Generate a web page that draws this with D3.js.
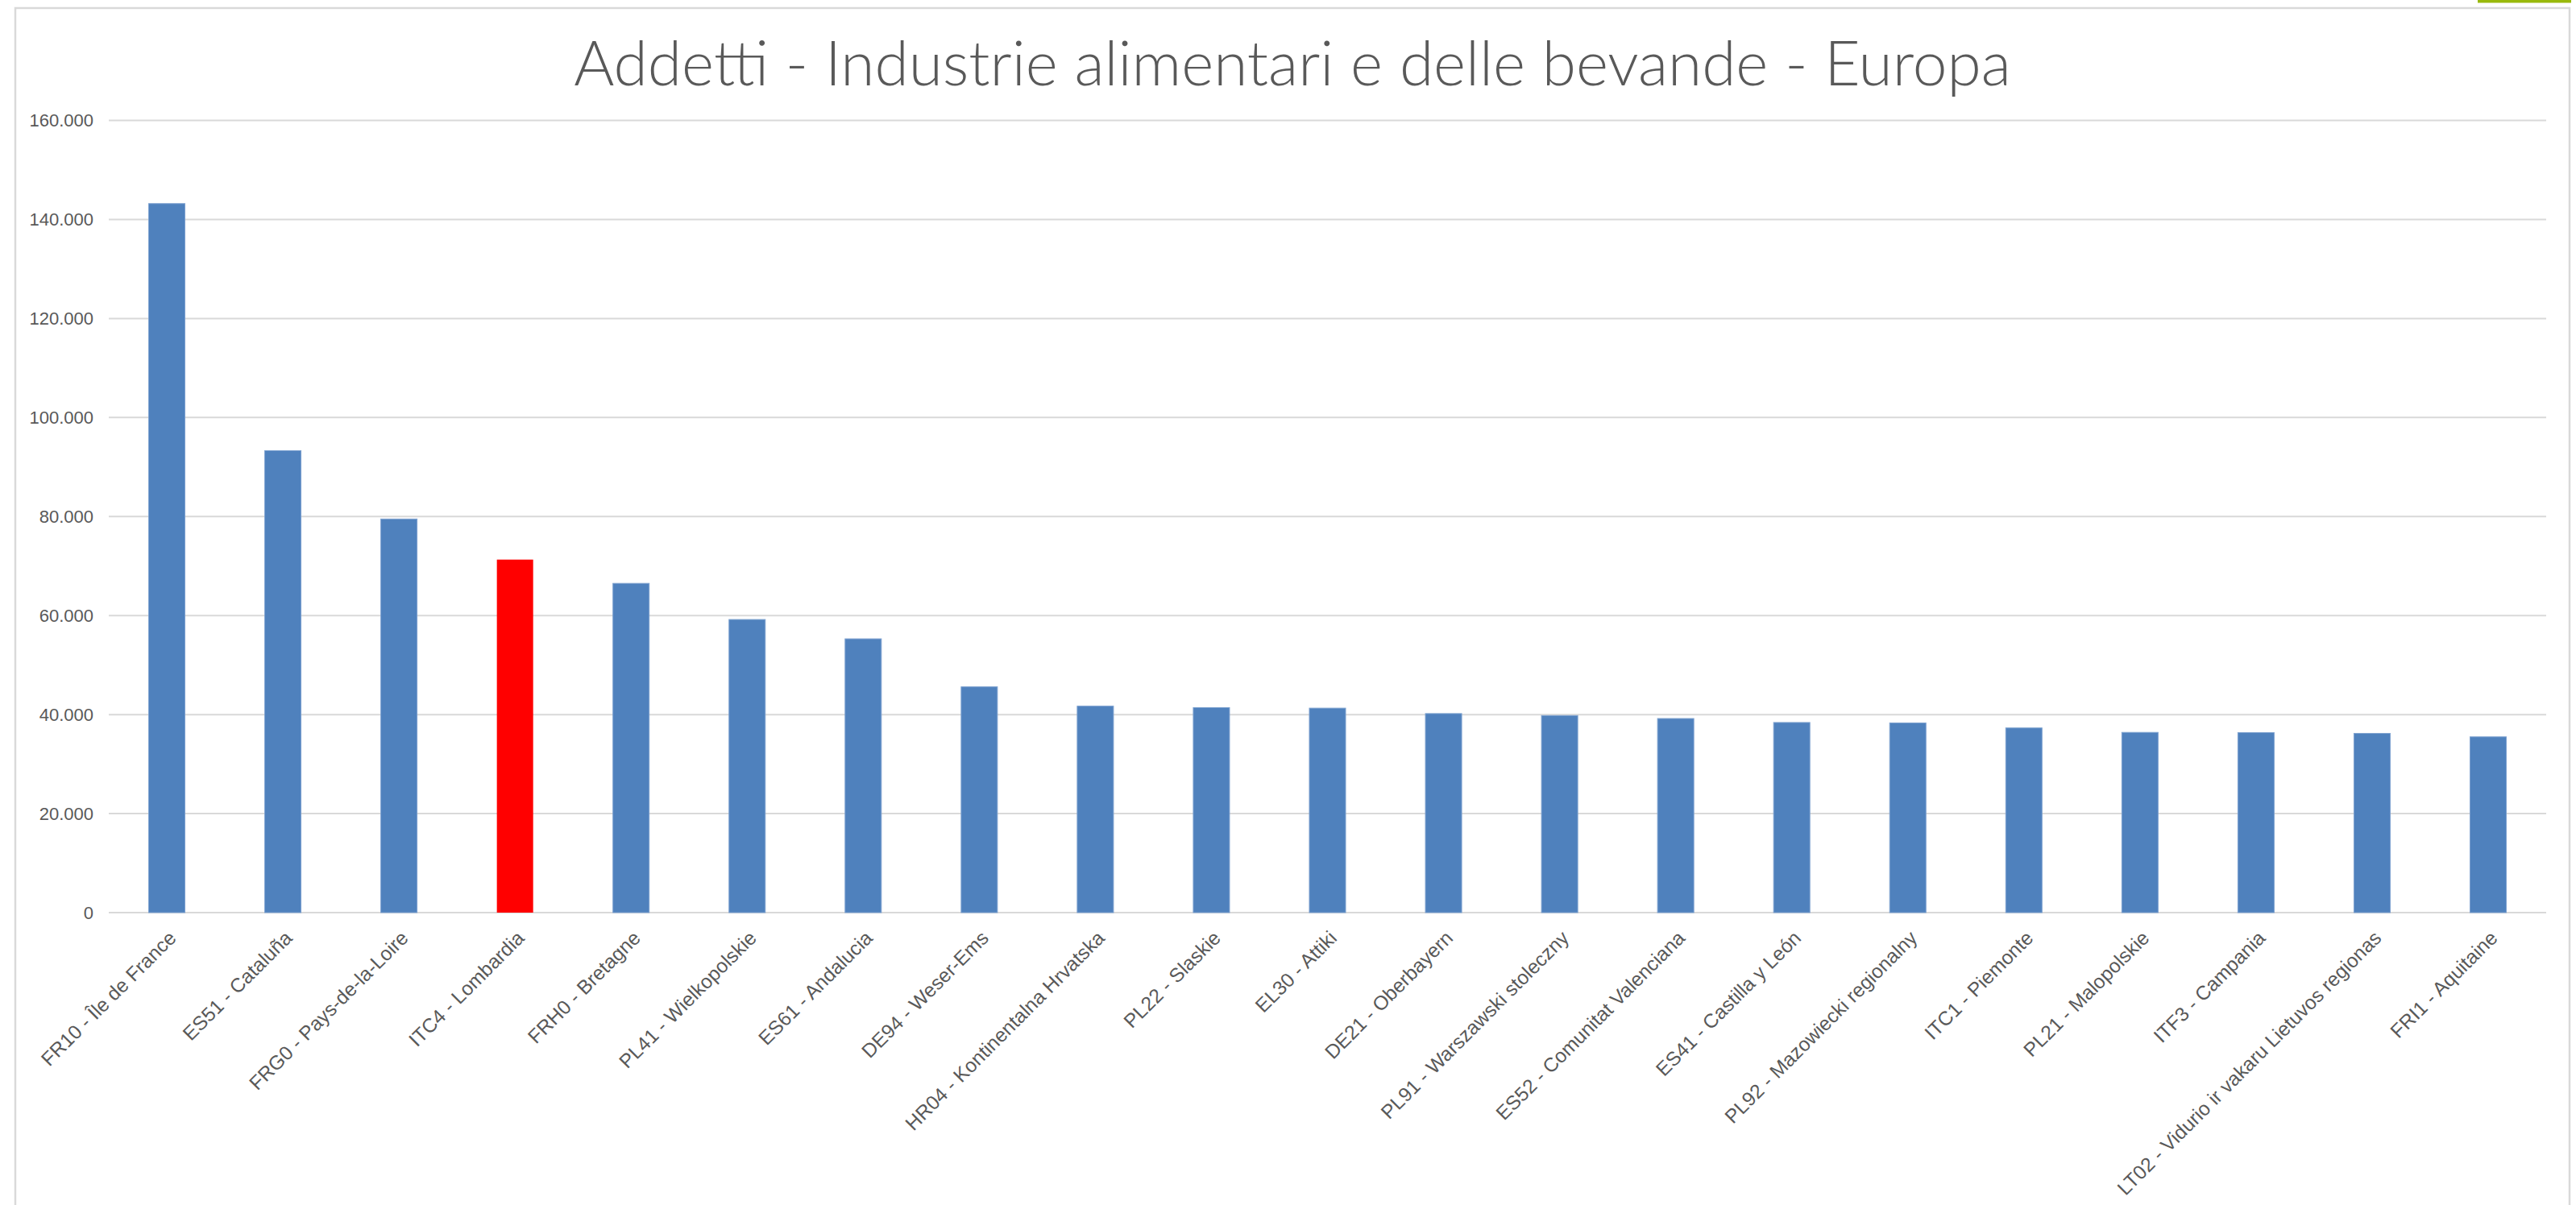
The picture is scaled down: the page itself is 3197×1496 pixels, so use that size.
<!DOCTYPE html>
<html>
<head>
<meta charset="UTF-8">
<script src="https://cdn.jsdelivr.net/npm/d3@7/dist/d3.min.js"></script>
<style>
body{
  margin:0;
  background-color:#fff;
}
</style>
</head>
<body>
<script>
// employees in food & beverage industry, top european regions

var regions = ["FR10 - Île de France", "ES51 - Cataluña", "FRG0 - Pays-de-la-Loire", "ITC4 - Lombardia",
  "FRH0 - Bretagne", "PL41 - Wielkopolskie", "ES61 - Andalucia", "DE94 - Weser-Ems",
  "HR04 - Kontinentalna Hrvatska", "PL22 - Slaskie", "EL30 - Attiki", "DE21 - Oberbayern",
  "PL91 - Warszawski stoleczny", "ES52 - Comunitat Valenciana", "ES41 - Castilla y León",
  "PL92 - Mazowiecki regionalny", "ITC1 - Piemonte", "PL21 - Malopolskie", "ITF3 - Campania",
  "LT02 - Vidurio ir vakaru Lietuvos regionas", "FRI1 - Aquitaine"]

var addetti = [143200, 93300, 79500, 71300, 66500, 59200, 55300, 45600, 41700, 41400, 41300,
  40200, 39800, 39200, 38400, 38300, 37300, 36400, 36350, 36200, 35500]

var highlight = ["ITC4 - Lombardia"]

var yTicks = [0, 20000, 40000, 60000, 80000, 100000, 120000, 140000, 160000]

var title = "Addetti - Industrie alimentari e delle bevande - Europa"

var width = 3197
var height = 1496

var svg = d3.select("body")
    .append("svg")
    .attr("width", width)
    .attr("height", height)

// chart frame + little green tab top right
svg.append("rect")
  .attr("x", 19)
  .attr("y", 10)
  .attr("width", 3170)
  .attr("height", 1520)
  .attr("fill", "white")
  .attr("stroke", "#d9d9d9")
  .attr("stroke-width", 2.5)

svg.append("rect")
  .attr("x", 3075)
  .attr("y", 0)
  .attr("width", 116)
  .attr("height", 3.5)
  .attr("fill", "#99b90c")

var x = d3.scaleBand()
  .domain(regions)
  .range([135, 3160])
  .paddingInner(0.6875)
  .paddingOuter(0.34375)

var y = d3.scaleLinear()
  .domain([0, 160000])
  .range([1133, 149.5])

var fmt = d3.formatLocale({decimal: ",", thousands: ".", grouping: [3], currency: ["", "€"]}).format(",d")

// gridlines
svg.append("g")
  .selectAll("line")
  .data(yTicks)
  .enter().append("line")
    .attr("x1", 135)
    .attr("x2", 3160)
    .attr("y1", d => y(d))
    .attr("y2", d => y(d))
    .attr("stroke", "#d9d9d9")
    .attr("stroke-width", 2)

// y axis labels
var yAxis = d3.axisLeft(y)
  .tickValues(yTicks)
  .tickFormat(fmt)
  .tickSize(0)
  .tickPadding(19)

svg.append("g")
  .attr("transform", "translate(135,0)")
  .call(yAxis)
  .call(g => g.select(".domain").remove())
  .selectAll("text")
    .attr("font-family", "Liberation Sans, Arial, sans-serif")
    .attr("font-size", 22)
    .attr("fill", "#595959")

// bars
svg.append("g")
  .selectAll("rect")
  .data(regions)
  .enter().append("rect")
    .attr("x", d => x(d))
    .attr("y", (d, i) => y(addetti[i]))
    .attr("width", x.bandwidth())
    .attr("height", (d, i) => y(0) - y(addetti[i]))
    .attr("fill", d => highlight.includes(d) ? "#ff0000" : "#4f81bd")
    .attr("stroke", d => highlight.includes(d) ? "none" : "#7ea2d0")
    .attr("stroke-width", 1)

// category labels, rotated
svg.append("g")
  .selectAll("text")
  .data(regions)
  .enter().append("text")
    .attr("transform", d => "translate(" + (x(d) + x.bandwidth() / 2 + 7) + ",1160) rotate(-45)")
    .attr("text-anchor", "end")
    .attr("dy", "0.35em")
    .attr("font-family", "Liberation Sans, Arial, sans-serif")
    .attr("font-size", 24.5)
    .attr("fill", "#595959")
    .text(d => d)

// title, sized to the width it takes in the original
var t = svg.append("text")
  .attr("x", 1604)
  .attr("y", 106)
  .attr("text-anchor", "middle")
  .attr("font-family", "Lato, Open Sans, sans-serif")
  .attr("font-weight", 300)
  .attr("font-size", 80)
  .attr("fill", "#595959")
  .text(title)

var tw = t.node().getComputedTextLength()
t.attr("font-size", 80 * 1784 / tw)
</script>
</body>
</html>
